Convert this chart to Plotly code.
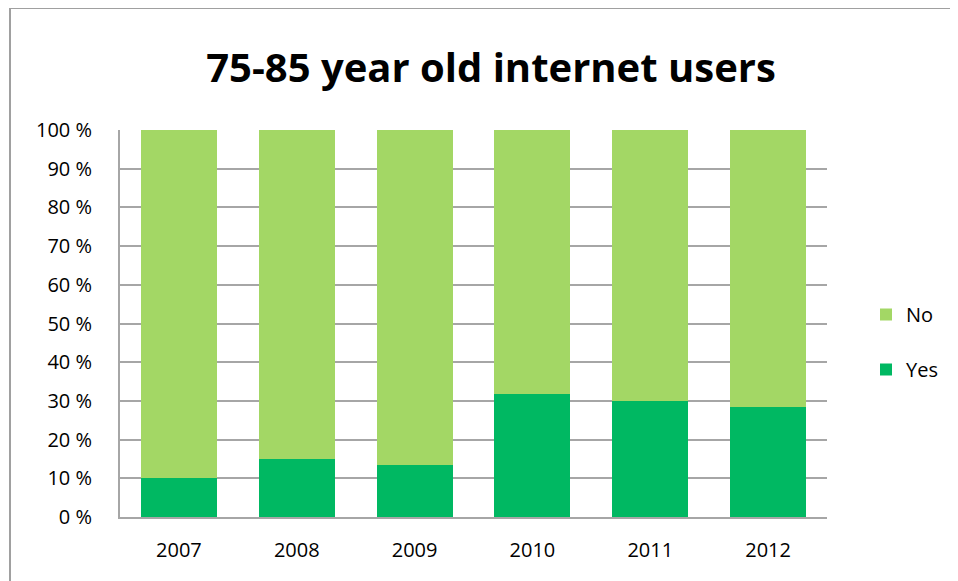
import plotly.graph_objects as go

years = ["2007", "2008", "2009", "2010", "2011", "2012"]
yes_pct = [10.0, 14.9, 13.4, 31.9, 30.0, 28.4]
no_pct = [100 - v for v in yes_pct]
tick_vals = [0, 10, 20, 30, 40, 50, 60, 70, 80, 90, 100]
tick_text = [f"{v} %" for v in tick_vals]

# page body has an 8px margin; work in window pixels and shift
OFF = 8
W, H = 958 - OFF, 581 - OFF
L, R, T, B = 120 - OFF, 958 - 827, 130 - OFF, 581 - 517
pw, ph = W - L - R, H - T - B

def px_x(x):
    return (x - OFF - L) / pw

def px_y(y):
    return (H - B - (y - OFF)) / ph

font = "Open Sans"
grid = "#a6a6a6"
border = "#a0a0a0"

fig = go.Figure()
fig.add_trace(go.Bar(x=years, y=yes_pct, name="Yes", marker_color="#00B862",
                     marker_line_width=0, legendgroup="yes", legendrank=2))
fig.add_trace(go.Bar(x=years, y=no_pct, name="No", marker_color="#A3D765",
                     marker_line_width=0, legendgroup="no", legendrank=1))

fig.update_layout(
    width=W, height=H,
    margin=dict(l=L, r=R, t=T, b=B, pad=0),
    barmode="stack", bargap=0.355,
    paper_bgcolor="white", plot_bgcolor="white",
    font=dict(family=font, size=20, color="#000000"),
    title=dict(text="<b>75-85 year old internet users</b>",
               x=(491 - OFF) / W, xanchor="center", xref="container",
               y=1 - (68 - OFF) / H, yanchor="middle", yref="container",
               font=dict(family=font, size=40, color="#000000")),
    legend=dict(x=px_x(866), xanchor="left", y=px_y(342), yanchor="middle",
                traceorder="grouped", tracegroupgap=26,
                font=dict(family=font, size=20), itemwidth=30,
                bgcolor="rgba(0,0,0,0)"),
    showlegend=True,
    xaxis=dict(showline=True, linecolor=grid, linewidth=2, ticks="",
               tickfont=dict(family=font, size=20), ticklabelstandoff=14,
               showgrid=False, fixedrange=True),
    yaxis=dict(range=[0, 100], tickvals=tick_vals, ticktext=tick_text,
               showline=True, linecolor=grid, linewidth=2,
               showgrid=True, gridcolor=grid, gridwidth=2,
               ticks="", ticklabelstandoff=22,
               tickfont=dict(family=font, size=20), zeroline=False),
    shapes=[
        dict(type="line", xref="paper", yref="paper",
             x0=px_x(10), x1=px_x(990), y0=px_y(8), y1=px_y(8),
             line=dict(color=border, width=2), layer="below"),
        dict(type="line", xref="paper", yref="paper",
             x0=px_x(10), x1=px_x(10), y0=px_y(8), y1=px_y(600),
             line=dict(color=border, width=2), layer="below"),
    ],
)

fig.write_html("out.html")
